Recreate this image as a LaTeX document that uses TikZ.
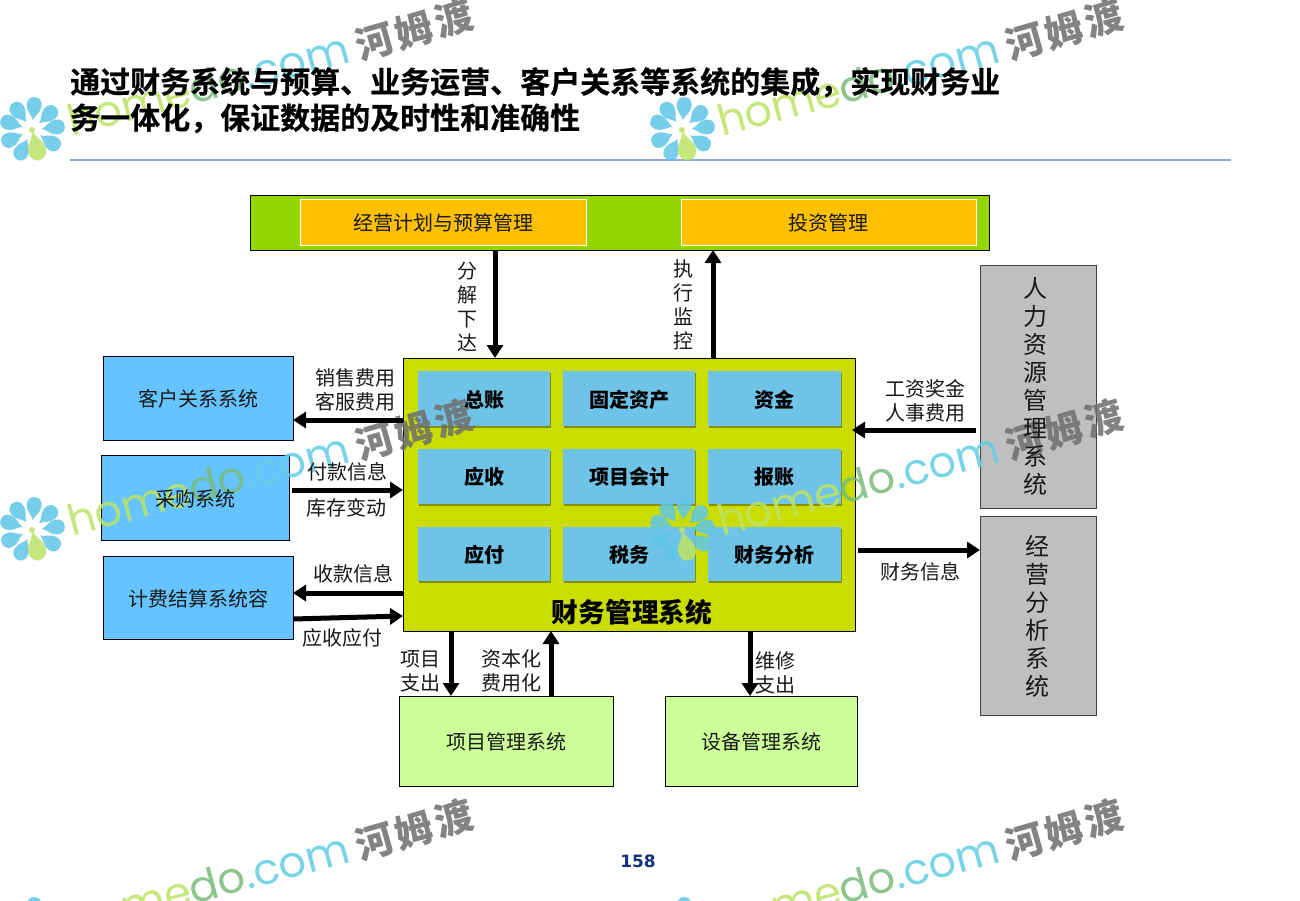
\documentclass[tikz,border=0pt]{standalone}
\usepackage{fontspec}
\setmainfont{Noto Sans CJK SC}
\newfontfamily\wmlatin{Poppins}
\newfontfamily\pagefont{DejaVu Sans}
\newfontfamily\heavyfont[FakeBold=0.5]{Noto Sans CJK SC Bold}
\usetikzlibrary{arrows.meta,shadows,calc}
\definecolor{bandgreen}{HTML}{94D500}
\definecolor{orangebox}{HTML}{FFC000}
\definecolor{mainyellow}{HTML}{CBDC00}
\definecolor{modblue}{HTML}{6EC3E6}
\definecolor{sysblue}{HTML}{65C3FF}
\definecolor{syslime}{HTML}{CCFF99}
\definecolor{sysgray}{HTML}{BFBFBF}
\definecolor{rulecol}{HTML}{8FA8D8}
\definecolor{navy}{HTML}{0F2F7F}
\definecolor{wmlight}{HTML}{BDE364}
\definecolor{wmdark}{HTML}{78BD78}
\definecolor{wmcyan}{HTML}{62CDE5}
\definecolor{wmgrey}{HTML}{6E6E6E}
\definecolor{petal}{HTML}{60C6E8}
\tikzset{
  boxbase/.style={rectangle,outer sep=0pt,inner sep=0pt},
  bandbox/.style={boxbase,draw=black,line width=1pt,fill=bandgreen},
  planbox/.style={boxbase,draw=white,line width=1pt,fill=orangebox},
  mainbox/.style={boxbase,draw=black,line width=1pt,fill=mainyellow},
  modbox/.style={boxbase,fill=modblue,minimum width=132pt,minimum height=55pt,
     drop shadow={shadow xshift=1pt,shadow yshift=-2pt,fill=black!70!mainyellow,opacity=.5}},
  bluebox/.style={boxbase,draw=black,line width=1pt,fill=sysblue},
  limebox/.style={boxbase,draw=black,line width=1pt,fill=syslime},
  graybox/.style={boxbase,draw=black!75,line width=1pt,fill=sysgray},
  lab/.style={font=\fontsize{20}{24}\selectfont,align=center,inner sep=0pt,text=black!90},
  boxlab/.style={lab,yshift=-1pt},
  modlab/.style={lab,yshift=-1pt,text=black,font=\fontsize{20}{24}\selectfont\bfseries},
  vlab/.style={font=\fontsize{24}{28}\selectfont,align=center,inner sep=0pt,text=black!90},
  conn/.style={line width=5pt,-{Stealth[length=13pt,width=16pt,inset=0pt]}},
}
\newcommand{\onepetal}[1]{\fill[#1] (10,0) .. controls (15,-1.5) and (18,-7.5) .. (25,-7.5) .. controls (30,-7.5) and (33,-4.5) .. (33,0) .. controls (33,4.5) and (30,7.5) .. (25,7.5) .. controls (18,7.5) and (15,1.5) .. (10,0) -- cycle;}
\begin{document}
\begin{tikzpicture}[x=1pt,y=-1pt]
\useasboundingbox (0,0) rectangle (1300,900);
\fill[white] (0,0) rectangle (1300,900);

% rule
\coordinate (ruleL) at (70,160);
\coordinate (ruleR) at (1231,160);
\draw[rulecol,line width=1.2pt] (ruleL) -- (ruleR);

% top band
\node[bandbox,minimum width=739pt,minimum height=55pt] (band) at (619.5,222.5) {};
\node[planbox,minimum width=286pt,minimum height=46pt] (plan) at (443,222) {};
\node[planbox,minimum width=295pt,minimum height=46pt] (invest) at (828.5,222) {};

% main
\node[mainbox,minimum width=452pt,minimum height=273pt] (main) at (629,494.5) {};
\node[modbox] (m11) at (484,398.5) {};
\node[modbox] (m12) at (629,398.5) {};
\node[modbox,minimum width=133pt] (m13) at (774.5,398.5) {};
\node[modbox] (m21) at (484,476) {};
\node[modbox] (m22) at (629,476) {};
\node[modbox,minimum width=133pt] (m23) at (774.5,476) {};
\node[modbox,minimum height=54pt] (m31) at (484,554) {};
\node[modbox,minimum height=54pt] (m32) at (629,554) {};
\node[modbox,minimum width=133pt,minimum height=54pt] (m33) at (774.5,554) {};

% left
\node[bluebox,minimum width=190pt,minimum height=84pt] (crm) at (198,398) {};
\node[bluebox,minimum width=188.5pt,minimum height=85pt] (buy) at (195.5,497.5) {};
\node[bluebox,minimum width=190pt,minimum height=83pt] (bill) at (198,597.5) {};

% bottom
\node[limebox,minimum width=214pt,minimum height=90pt] (proj) at (506,741) {};
\node[limebox,minimum width=192pt,minimum height=90pt] (dev) at (761,741) {};

% right
\node[graybox,minimum width=116pt,minimum height=243pt] (hr) at (1038,386.5) {};
\node[graybox,minimum width=116pt,minimum height=199pt] (ana) at (1038,615.5) {};

% watermarks
\foreach \wx/\wy/\wn in {0/0/a,650/0/b,0/400/c,650/400/d,0/800/e,650/800/f}{
  \begin{scope}[shift={(\wx,\wy)},opacity=.85]
    \foreach \ang in {85,43,7,-33,-116,-156,162,126}{
      \begin{scope}[shift={(32,130)},rotate=\ang]\onepetal{petal}\end{scope}
    }
    \begin{scope}[shift={(33,133)},rotate=-77]
      \fill[wmlight] (0,-1) .. controls (6,-2) and (10,-9) .. (18,-9) .. controls (24,-9) and (28,-5) .. (28,0) .. controls (28,5) and (24,9) .. (18,9) .. controls (10,9) and (6,2) .. (0,1) -- cycle;
    \end{scope}
    \fill[wmlight] (32,130) circle (3pt);
    \node[anchor=base west,rotate=15,inner sep=0pt,font=\wmlatin\fontsize{43}{43}\selectfont] (wm\wn) at (72,137)
      {\textcolor{wmlight}{home}\textcolor{wmdark}{do}\textcolor{wmcyan}{.com}};
    \node[rotate=16,inner sep=0pt,text=wmgrey,font=\fontsize{38}{40}\selectfont\bfseries] (wmc\wn) at (414,30)
      {河\hspace{3pt}姆\hspace{3pt}渡};
  \end{scope}
}

% title
\node[anchor=north west,inner sep=0pt,align=left,font=\heavyfont\fontsize{30}{36}\selectfont] (title) at (70,67)
  {通过财务系统与预算、业务运营、客户关系等系统的集成^^^^ff0c实现财务业\\务一体化^^^^ff0c保证数据的及时性和准确性};

% connector guides
\coordinate (xA) at (495,0); \coordinate (xB) at (713,0);
\coordinate (xC) at (451,0); \coordinate (xD) at (551,0); \coordinate (xE) at (750,0);
\coordinate (yA) at (0,420); \coordinate (yB) at (0,490); \coordinate (yC) at (0,593);
\coordinate (yD) at (0,619); \coordinate (yD2) at (0,616); \coordinate (yF) at (0,550);
\coordinate (hrEnd) at (976,430); \coordinate (mainR) at (852,430);
\coordinate (mainOut) at (858,550);

\draw[conn] (band.south -| xA) -- (main.north -| xA);
\draw[conn] (main.north -| xB) -- (band.south -| xB);
\draw[conn] (main.west |- yA) -- (crm.east |- yA);
\draw[conn] ([xshift=2pt]buy.east |- yB) -- (main.west |- yB);
\draw[conn] (main.west |- yC) -- (bill.east |- yC);
\draw[conn] (bill.east |- yD) -- (main.west |- yD2);
\draw[conn] (hrEnd) -- (mainR);
\draw[conn] (mainOut) -- (ana.west |- yF);
\draw[conn] (main.south -| xC) -- (proj.north -| xC);
\draw[conn] (proj.north -| xD) -- (main.south -| xD);
\draw[conn] (main.south -| xE) -- (dev.north -| xE);

% box texts
\node[boxlab] (plant) at (plan) {经营计划与预算管理};
\node[boxlab] (investt) at (invest) {投资管理};
\node[modlab] (t11) at (m11) {总账};
\node[modlab] (t12) at (m12) {固定资产};
\node[modlab] (t13) at (m13) {资金};
\node[modlab] (t21) at (m21) {应收};
\node[modlab] (t22) at (m22) {项目会计};
\node[modlab] (t23) at (m23) {报账};
\node[modlab] (t31) at (m31) {应付};
\node[modlab] (t32) at (m32) {税务};
\node[modlab] (t33) at (m33) {财务分析};
\node[inner sep=0pt,font=\fontsize{26.7}{30}\selectfont\bfseries] (maint) at (632,612) {财务管理系统};
\node[boxlab] (crmt) at (crm) {客户关系系统};
\node[boxlab] (buyt) at (buy) {采购系统};
\node[boxlab] (billt) at (bill) {计费结算系统容};
\node[boxlab] (projt) at (proj) {项目管理系统};
\node[boxlab] (devt) at (dev) {设备管理系统};
\node[vlab] (hrt) at (1035,386) {人\\力\\资\\源\\管\\理\\系\\统};
\node[vlab] (anat) at (1037,616) {经\\营\\分\\析\\系\\统};

% labels
\node[lab] (l1) at (467,307) {分\\解\\下\\达};
\node[lab] (l2) at (683,305) {执\\行\\监\\控};
\node[lab] (l3) at (355,390) {销售费用\\客服费用};
\node[lab] (l4) at (347,472) {付款信息};
\node[lab] (l5) at (346,508) {库存变动};
\node[lab] (l6) at (353,574) {收款信息};
\node[lab] (l7) at (342,638) {应收应付};
\node[lab] (l8) at (925,401) {工资奖金\\人事费用};
\node[lab] (l9) at (920,572) {财务信息};
\node[lab] (l10) at (420,671) {项目\\支出};
\node[lab] (l11) at (511,671) {资本化\\费用化};
\node[lab] (l12) at (775,673) {维修\\支出};

\node[inner sep=0pt,text=navy,font=\pagefont\fontsize{17}{20}\selectfont\bfseries] (pageno) at (638,861) {158};
\end{tikzpicture}
\end{document}
